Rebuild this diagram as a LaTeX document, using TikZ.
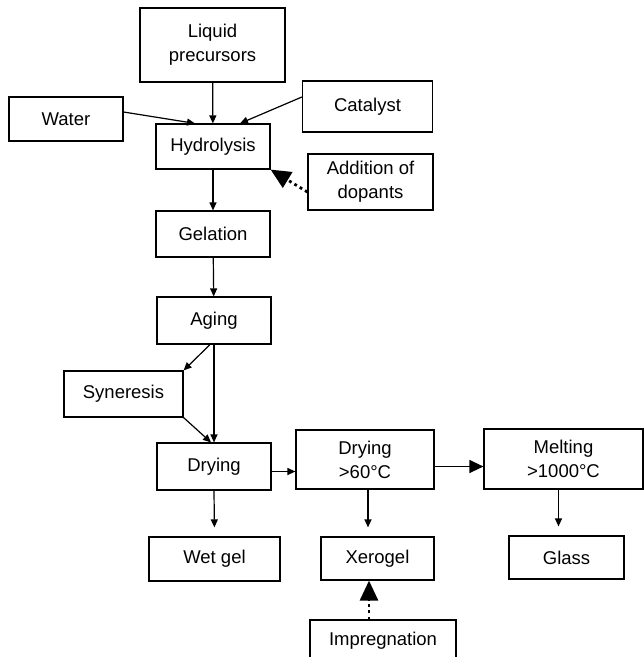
\documentclass[tikz,border=0pt]{standalone}
\usepackage{fontspec}
\setmainfont{Liberation Sans}
\usetikzlibrary{calc,arrows.meta}

\tikzset{
  stage/.style={draw, line width=1.2pt, inner sep=0pt, align=center,
    font=\fontsize{18.5}{24}\selectfont},
  flow/.style={line width=1.2pt, -{Triangle[length=8pt,width=7pt]}},
  bigflow/.style={line width=1.3pt, -{Triangle[length=14pt,width=13pt]}},
  extra/.style={line width=2.8pt, dash pattern=on 2.8pt off 3.4pt,
    -{Triangle[length=20pt,width=18pt]}},
}

\begin{document}
\begin{tikzpicture}[x=1pt, y=-1pt]
      \clip (0, 0) rectangle (644, 657);
      % stages of the process
      \node[stage, minimum width=145, minimum height=74] (liquid) at (212.5, 45) {Liquid\\precursors};
      \node[stage, minimum width=114, minimum height=44] (water) at (66, 119) {Water};
      \node[stage, minimum width=130, minimum height=51] (catalyst) at (367.5, 106.5) {Catalyst};
      \node[stage, minimum width=114, minimum height=45] (hydro) at (213, 146.5) {Hydrolysis};
      \node[stage, minimum width=125, minimum height=56] (dopants) at (370.5, 182) {Addition of\\dopants};
      \node[stage, minimum width=114, minimum height=46] (gelation) at (213, 234) {Gelation};
      \node[stage, minimum width=114, minimum height=47] (aging) at (214, 320.5) {Aging};
      \node[stage, minimum width=119, minimum height=46] (syneresis) at (123.5, 394) {Syneresis};
      \node[stage, minimum width=114, minimum height=47] (drying) at (214, 466.5) {Drying};
      \node[stage, minimum width=138, minimum height=59] (dryhot) at (365, 459.5) {Drying\\>60°C};
      \node[stage, minimum width=159, minimum height=60] (melting) at (563.5, 459) {Melting\\>1000°C};
      \node[stage, minimum width=131, minimum height=44] (wetgel) at (214.5, 559) {Wet gel};
      \node[stage, minimum width=113, minimum height=43] (xerogel) at (377.5, 558.5) {Xerogel};
      \node[stage, minimum width=115, minimum height=43] (glass) at (566.5, 557.5) {Glass};
      \node[stage, minimum width=146, minimum height=42] (impreg) at (383, 641) {Impregnation};
      % connectors
      \draw[flow] (liquid) -- (hydro);
      \draw[flow] ($(water.east)+(0,-7)$) -- ($(hydro.north)+(-18,0)$);
      \draw[flow] ($(catalyst.west)+(0,-9.5)$) -- ($(hydro.north)+(27,0)$);
      \draw[extra] ($(dopants.west)+(0,10)$) -- (hydro.south east);
      \draw[flow] (hydro) -- (gelation);
      \draw[flow] (gelation) -- (aging);
      \draw[flow] ($(aging.south)+(-4,0)$) -- (syneresis.north east);
      \draw[flow] (aging.south) -- (drying.north);
      \draw[flow] (syneresis.south east) -- ($(drying.north)+(-3,0)$);
      \coordinate (d1) at ($(drying.east)+(0,5)$);
      \draw[flow] (d1) -- (d1 -| dryhot.west);
      \coordinate (d2) at ($(dryhot.east)+(0,7)$);
      \draw[bigflow] (d2) -- (d2 -| melting.west);
      \draw[flow, shorten >=9pt] (drying.south) -- (wetgel.north);
      \coordinate (d3) at ($(dryhot.south)+(3,0)$);
      \draw[flow, shorten >=9pt] (d3) -- (d3 |- xerogel.north);
      \coordinate (d4) at ($(melting.south)+(-5,0)$);
      \draw[flow, shorten >=9pt] (d4) -- (d4 |- glass.north);
      \coordinate (d5) at ($(impreg.north)+(-14,0)$);
      \draw[extra] (d5) -- (d5 |- xerogel.south);
\end{tikzpicture}
\end{document}
